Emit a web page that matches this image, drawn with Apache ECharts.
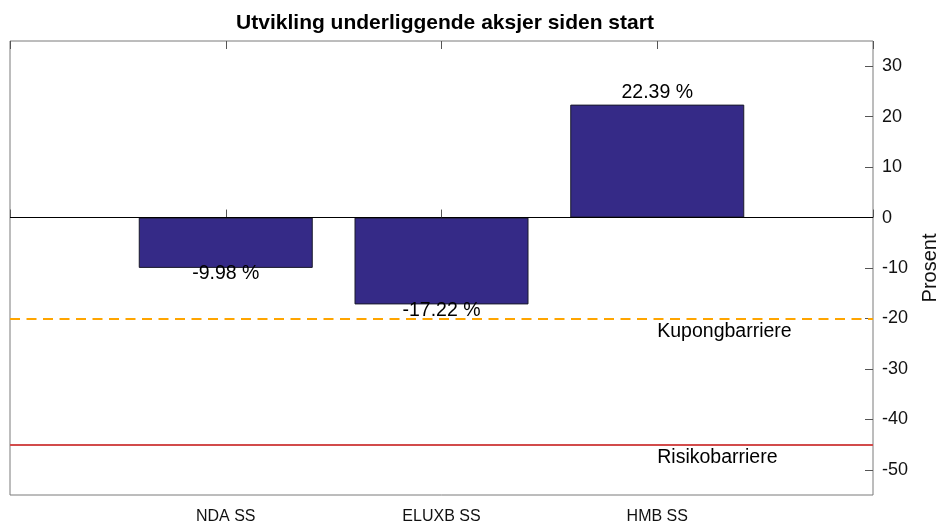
<!DOCTYPE html>
<html>
<head>
<meta charset="utf-8">
<script src="https://cdn.jsdelivr.net/npm/echarts@6/dist/echarts.min.js"></script>
<style>
  html, body { margin: 0; padding: 0; background: #fff; }
  #chart { width: 942px; height: 525px; }
</style>
</head>
<body>
<div id="chart"></div>
<script>
// data
var categories = ['', 'NDA SS', 'ELUXB SS', 'HMB SS', ''];
var changes = ['-', -9.98, -17.22, 22.39, '-'];
var yTicks = [-50, -40, -30, -20, -10, 0, 10, 20, 30];
var zeroLevel = 0;
var kupongLevel = -20;
var risikoLevel = -45;
var barrierLabels = [
  ['HMB SS', kupongLevel, 'Kupongbarriere'],
  ['HMB SS', risikoLevel, 'Risikobarriere']
];

var font = 'Liberation Sans, Arial, sans-serif';

var barData = [];
for (var i = 0; i < changes.length; i++) {
  var v = changes[i];
  if (v === '-') {
    barData.push('-');
  } else {
    barData.push({
      value: v,
      label: { position: v < 0 ? 'bottom' : 'top', distance: v < 0 ? -4 : 2 }
    });
  }
}

var chart = echarts.init(document.getElementById('chart'));
chart.setOption({
  animation: false,
  title: {
    text: 'Utvikling underliggende aksjer siden start',
    left: 440, top: 8, textAlign: 'center',
    textStyle: { fontFamily: font, fontSize: 21, fontWeight: 'bold', color: '#000' }
  },
  grid: {
    left: 10, right: 69, top: 41, bottom: 30,
    outerBoundsMode: 'none', containLabel: false,
    show: true, borderColor: '#7a7a7a', borderWidth: 1, backgroundColor: '#fff'
  },
  xAxis: [
    {
      type: 'category', data: categories, boundaryGap: false, position: 'bottom',
      axisLine: { show: false },
      axisTick: { show: true, inside: true, length: 8, lineStyle: { color: '#555' } },
      axisLabel: { fontFamily: font, fontSize: 16, color: '#111', margin: 14 },
      splitLine: { show: false }
    },
    {
      type: 'category', data: categories, boundaryGap: false, position: 'top',
      axisLine: { show: false },
      axisTick: { show: true, inside: true, length: 8, lineStyle: { color: '#555' } },
      axisLabel: { show: false },
      splitLine: { show: false }
    }
  ],
  yAxis: {
    type: 'value', position: 'right', min: -55, max: 35,
    name: 'Prosent', nameLocation: 'middle', nameGap: 47, nameRotate: 90,
    nameTextStyle: { fontFamily: font, fontSize: 20, color: '#111' },
    axisLine: { show: false },
    axisTick: { show: true, inside: true, length: 8, customValues: yTicks, lineStyle: { color: '#555' } },
    axisLabel: { fontFamily: font, fontSize: 18, color: '#111', margin: 9, customValues: yTicks },
    splitLine: { show: false }
  },
  series: [
    {
      type: 'bar',
      data: barData,
      barWidth: 174,
      itemStyle: { color: '#352a87', borderColor: '#1a1a2a', borderWidth: 1 },
      label: {
        show: true, fontFamily: font, fontSize: 19.5, color: '#000',
        formatter: function (p) { return p.value.toFixed(2) + ' %'; }
      },
      markLine: {
        silent: true, symbol: 'none', label: { show: false },
        data: [
          { yAxis: zeroLevel, lineStyle: { color: '#000', width: 1, type: 'solid' } },
          { yAxis: kupongLevel, lineStyle: { color: '#ffa500', width: 2, type: [10, 6.5] } },
          { yAxis: risikoLevel, lineStyle: { color: '#d24b4b', width: 2, type: 'solid' } }
        ]
      },
      z: 2
    },
    {
      type: 'scatter',
      data: barrierLabels,
      symbolSize: 0,
      silent: true,
      itemStyle: { opacity: 1 },
      label: {
        show: true, position: 'inside', align: 'left', verticalAlign: 'top',
        offset: [0, 3], fontFamily: font, fontSize: 19.5, color: '#000',
        textBorderWidth: 0,
        formatter: function (p) { return p.value[2]; }
      },
      z: 3
    }
  ]
});
</script>
</body>
</html>
